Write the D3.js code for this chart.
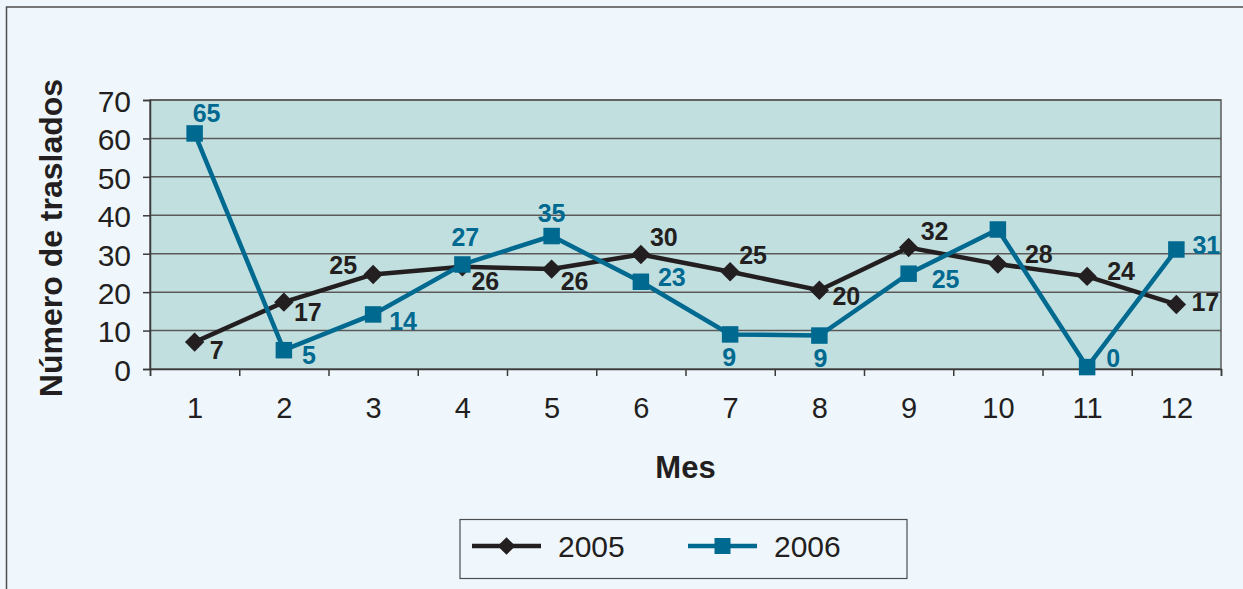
<!DOCTYPE html>
<html>
<head>
<meta charset="utf-8">
<script src="https://cdn.jsdelivr.net/npm/d3@7"></script>
<style>
  html, body { margin: 0; padding: 0; background: #eff7fd; }
  svg { display: block; font-family: "Liberation Sans", Arial, sans-serif; }
</style>
</head>
<body>
<div id="chart"></div>
<script>
// data
const months = [1, 2, 3, 4, 5, 6, 7, 8, 9, 10, 11, 12];
const yTicks = [0, 10, 20, 30, 40, 50, 60, 70];
const values2005 = [7, 17.4, 24.6, 26.6, 26, 29.8, 25.3, 20.5, 31.6, 27.3, 24.1, 16.8];
const values2006 = [61.3, 4.9, 14.2, 27.2, 34.6, 22.7, 9, 8.7, 24.8, 36.3, 0.5, 31.1];
const labels2005 = ["7", "17", "25", "26", "26", "30", "25", "20", "32", "28", "24", "17"];
const labels2006 = ["65", "5", "14", "27", "35", "23", "9", "9", "25", "", "0", "31"];
const seriesNames = ["2005", "2006"];

// label placement: [dx, dy, anchor]
const place2005 = [[15,17,"start"],[10,19,"start"],[-16,0,"end"],[9,23,"start"],[9,21,"start"],[9,-8,"start"],
                   [9,-8,"start"],[13,15,"start"],[12,-8,"start"],[27,-1,"start"],[20,4,"start"],[15,7,"start"]];
const place2006 = [[-2,-11,"start"],[18,14,"start"],[16,16,"start"],[3,-18,"middle"],[0,-14,"middle"],[17,4,"start"],
                   [-1,32,"middle"],[1,31,"middle"],[23,14,"start"],[0,0,"start"],[19,0,"start"],[16,5,"start"]];

const W = 1243, H = 589;
const mLeft = 150, mRight = 1221, mTop = 100, mBottom = 369;
const black = "#231f20", teal = "#006990";

const svg = d3.select("#chart").append("svg").attr("width", W).attr("height", H);

svg.append("rect").attr("x", 6.5).attr("y", 7).attr("width", W + 20).attr("height", H + 20)
  .attr("fill", "#eff7fd").attr("stroke", "#4d4d4d").attr("stroke-width", 1.5);

const x = d3.scaleLinear().domain([0.5, 12.5]).range([mLeft, mRight]);
const y = d3.scaleLinear().domain([0, 70]).range([mBottom, mTop]);

// plot area
svg.append("rect").attr("x", mLeft).attr("y", mTop).attr("width", mRight - mLeft).attr("height", mBottom - mTop)
  .attr("fill", "#c2dfe0");

// gridlines
svg.append("g").selectAll("line").data(yTicks.filter(d => d > 0)).enter().append("line")
  .attr("x1", mLeft).attr("x2", mRight).attr("y1", d => y(d)).attr("y2", d => y(d))
  .attr("stroke", "#5a5a5a").attr("stroke-width", 1.5);

svg.append("rect").attr("x", mLeft).attr("y", mTop).attr("width", mRight - mLeft).attr("height", mBottom - mTop)
  .attr("fill", "none").attr("stroke", "#5a5a5a").attr("stroke-width", 1.5);

// y axis
const yAxis = svg.append("g").attr("transform", "translate(" + mLeft + ",0)")
  .call(d3.axisLeft(y).tickValues(yTicks).tickSize(7).tickPadding(12));
yAxis.select(".domain").attr("stroke", "#3a3a3a").attr("stroke-width", 1.5);
yAxis.selectAll(".tick line").attr("stroke", "#3a3a3a").attr("stroke-width", 1.5);
yAxis.selectAll("text").attr("font-size", 30).attr("fill", black).attr("dy", "0.38em")
  .attr("font-family", "Liberation Sans, Arial, sans-serif");

// x axis: boundary ticks + centred labels
const xAxis = svg.append("g").attr("transform", "translate(0," + mBottom + ")")
  .call(d3.axisBottom(x).tickValues(d3.range(0.5, 13, 1)).tickSize(7).tickFormat(""));
xAxis.select(".domain").attr("stroke", "#3a3a3a").attr("stroke-width", 1.5);
xAxis.selectAll(".tick line").attr("stroke", "#3a3a3a").attr("stroke-width", 1.5);

const xLabels = svg.append("g").attr("transform", "translate(0," + mBottom + ")")
  .call(d3.axisBottom(x).tickValues(months).tickSize(0).tickPadding(28));
xLabels.select(".domain").remove();
xLabels.selectAll("text").attr("font-size", 29).attr("fill", black)
  .attr("font-family", "Liberation Sans, Arial, sans-serif");

// axis titles
svg.append("text").attr("x", (mLeft + mRight) / 2).attr("y", 478).attr("text-anchor", "middle")
  .attr("font-size", 31).attr("font-weight", "bold").attr("fill", black).text("Mes");
svg.append("text").attr("transform", "translate(62,238) rotate(-90)").attr("text-anchor", "middle")
  .attr("font-size", 32).attr("font-weight", "bold").attr("fill", black).text("Número de traslados");

const line = d3.line().x((d, i) => x(months[i])).y(d => y(d));
const diamond = d3.symbol().type(d3.symbolDiamond2).size(240);
const square = d3.symbol().type(d3.symbolSquare).size(272);

function drawSeries(vals, color, sym, labels, place) {
  const g = svg.append("g");
  g.append("path").datum(vals).attr("d", line).attr("fill", "none")
    .attr("stroke", color).attr("stroke-width", 4.5).attr("stroke-linejoin", "miter");
  g.selectAll(".mk").data(vals).enter().append("path")
    .attr("d", sym).attr("fill", color)
    .attr("transform", (d, i) => "translate(" + x(months[i]) + "," + y(d) + ")");
  g.selectAll(".lb").data(vals).enter().append("text")
    .attr("x", (d, i) => x(months[i]) + place[i][0])
    .attr("y", (d, i) => y(d) + place[i][1])
    .attr("text-anchor", (d, i) => place[i][2])
    .attr("font-size", 25).attr("font-weight", "bold").attr("fill", color)
    .text((d, i) => labels[i]);
}
drawSeries(values2005, black, diamond, labels2005, place2005);
drawSeries(values2006, teal, square, labels2006, place2006);

// legend
const lg = svg.append("g");
lg.append("rect").attr("x", 460).attr("y", 519.5).attr("width", 447).attr("height", 59)
  .attr("fill", "#eff7fd").attr("stroke", "#4d4d4d").attr("stroke-width", 1.2);
const legendItems = [
  { name: seriesNames[0], color: black, sym: d3.symbol().type(d3.symbolDiamond2).size(200), x0: 472 },
  { name: seriesNames[1], color: teal, sym: d3.symbol().type(d3.symbolSquare).size(256), x0: 688 }
];
legendItems.forEach(it => {
  lg.append("line").attr("x1", it.x0).attr("x2", it.x0 + 69).attr("y1", 546).attr("y2", 546)
    .attr("stroke", it.color).attr("stroke-width", 4.5);
  lg.append("path").attr("d", it.sym).attr("fill", it.color)
    .attr("transform", "translate(" + (it.x0 + 34.5) + ",546)");
  lg.append("text").attr("x", it.x0 + 86).attr("y", 557).attr("font-size", 30)
    .attr("fill", black).text(it.name);
});
</script>
</body>
</html>
